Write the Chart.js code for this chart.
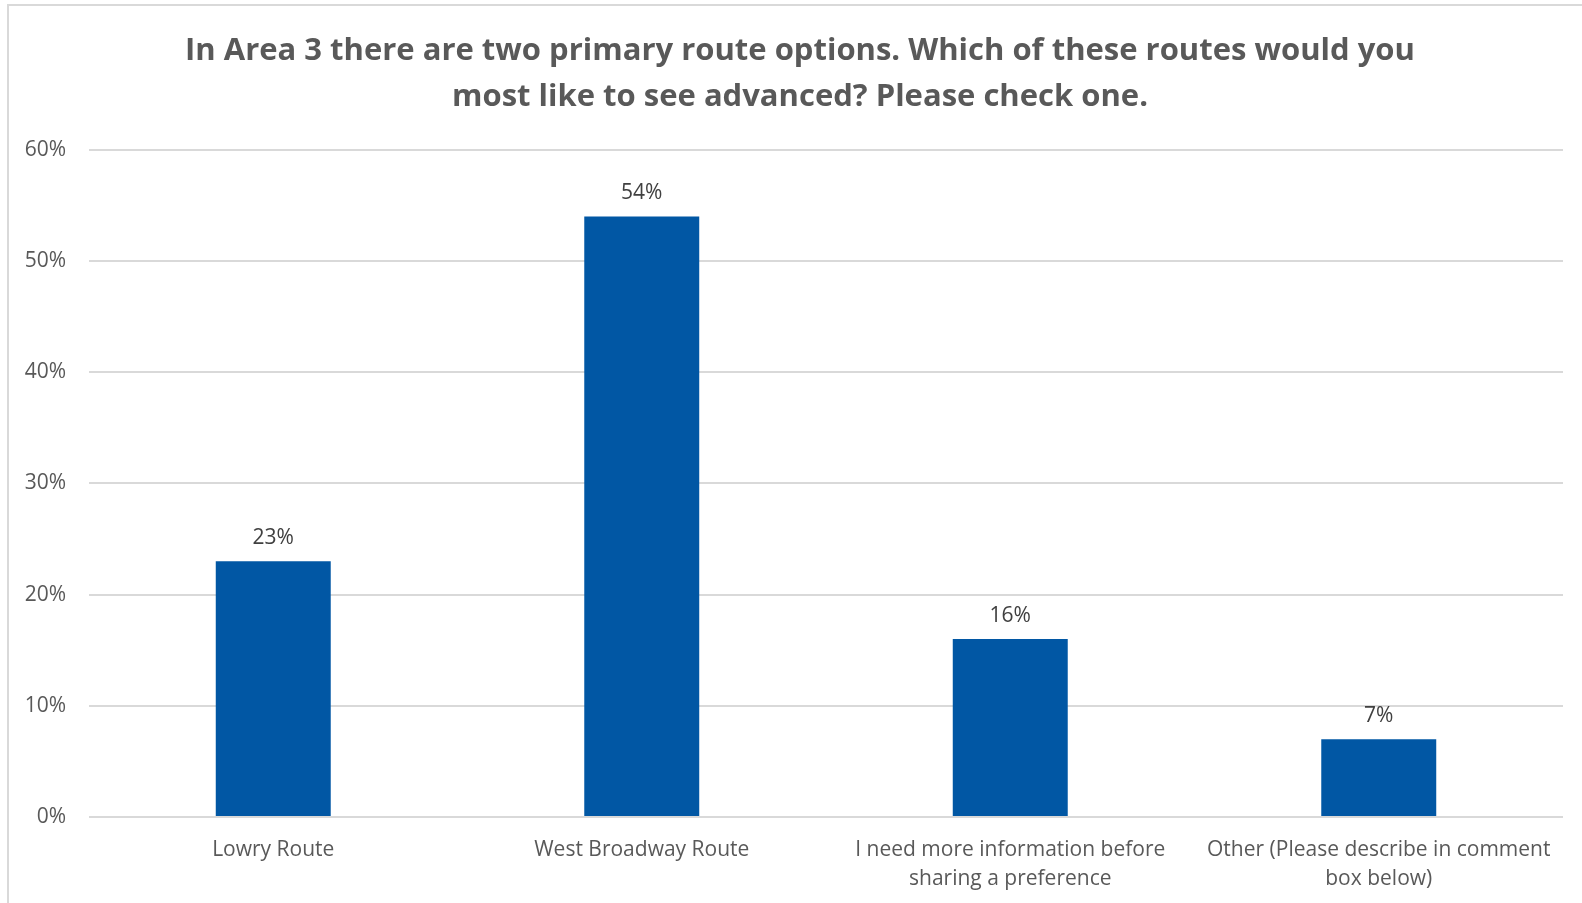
<!DOCTYPE html>
<html>
<head>
<meta charset="utf-8">
<script src="https://cdn.jsdelivr.net/npm/chart.js@4.4.1/dist/chart.umd.min.js"></script>
<style>
  html, body { margin:0; padding:0; background:#fff; overflow:hidden; width:1582px; height:903px; }
  #frame { position:absolute; left:7px; top:4px; width:1600px; height:920px;
           border-left:2px solid #d9d9d9; border-top:2px solid #d9d9d9; }
  #wrap { position:absolute; left:8px; top:5px; width:1584px; height:898px; }
</style>
</head>
<body>
<div id="frame"></div>
<div id="wrap"><canvas id="chart"></canvas></div>
<script>
// ========== DATA ==========
const titleLines = [
  "In Area 3 there are two primary route options. Which of these routes would you",
  "most like to see advanced? Please check one."
];
const categories = [
  "Lowry Route",
  "West Broadway Route",
  ["I need more information before", "sharing a preference"],
  ["Other (Please describe in comment", "box below)"]
];
const percentValues = [23, 54, 16, 7];
const yTicks = [0, 10, 20, 30, 40, 50, 60];

const barColor = "#0157A4";
const textGray = "#595959";

// ========== DATA LABELS ==========
const valueLabels = {
  id: "valueLabels",
  afterDatasetsDraw(chart){
    const ctx = chart.ctx;
    const meta = chart.getDatasetMeta(0);
    ctx.save();
    ctx.font = "21px 'Open Sans'";
    ctx.fillStyle = "#404040";
    ctx.textAlign = "center";
    ctx.textBaseline = "alphabetic";
    meta.data.forEach((bar, i)=>{
      ctx.fillText(percentValues[i] + "%", bar.x, bar.y - 17);
    });
    ctx.restore();
  }
};

// ========== CHART ==========
new Chart(document.getElementById("chart"), {
  type: "bar",
  data: {
    labels: categories,
    datasets: [{
      data: percentValues,
      backgroundColor: barColor,
      barPercentage: 0.312,
      categoryPercentage: 1
    }]
  },
  options: {
    responsive: true,
    maintainAspectRatio: false,
    animation: false,
    layout: { padding: 0 },
    plugins: {
      legend: { display: false },
      tooltip: { enabled: false },
      title: {
        display: true,
        text: titleLines,
        color: textGray,
        font: { family: "'Open Sans'", size: 31, weight: "bold", lineHeight: 1.48 },
        padding: { top: 23, bottom: 30 }
      }
    },
    scales: {
      x: {
        grid: { display: false, drawTicks: false },
        border: { display: false },
        ticks: {
          color: textGray,
          font: { family: "'Open Sans'", size: 21, lineHeight: 1.38 },
          padding: 19,
          maxRotation: 0,
          autoSkip: false
        },
        afterFit(scale){ scale.height = 86; }
      },
      y: {
        min: 0,
        max: 60,
        afterBuildTicks(scale){ scale.ticks = yTicks.map(v=>({value:v})); },
        grid: { color: "#d9d9d9", lineWidth: 2, drawTicks: false },
        border: { display: false },
        ticks: {
          color: textGray,
          font: { family: "'Open Sans'", size: 21 },
          padding: 23,
          callback: v => v + "%"
        },
        afterFit(scale){ scale.width = 81; }
      },
      // empty right margin so the title stays centred on the whole frame
      yRight: {
        position: "right",
        grid: { display: false, drawTicks: false },
        border: { display: false },
        ticks: { display: false },
        afterFit(scale){ scale.width = 29; }
      }
    }
  },
  plugins: [valueLabels]
});
</script>
</body>
</html>
